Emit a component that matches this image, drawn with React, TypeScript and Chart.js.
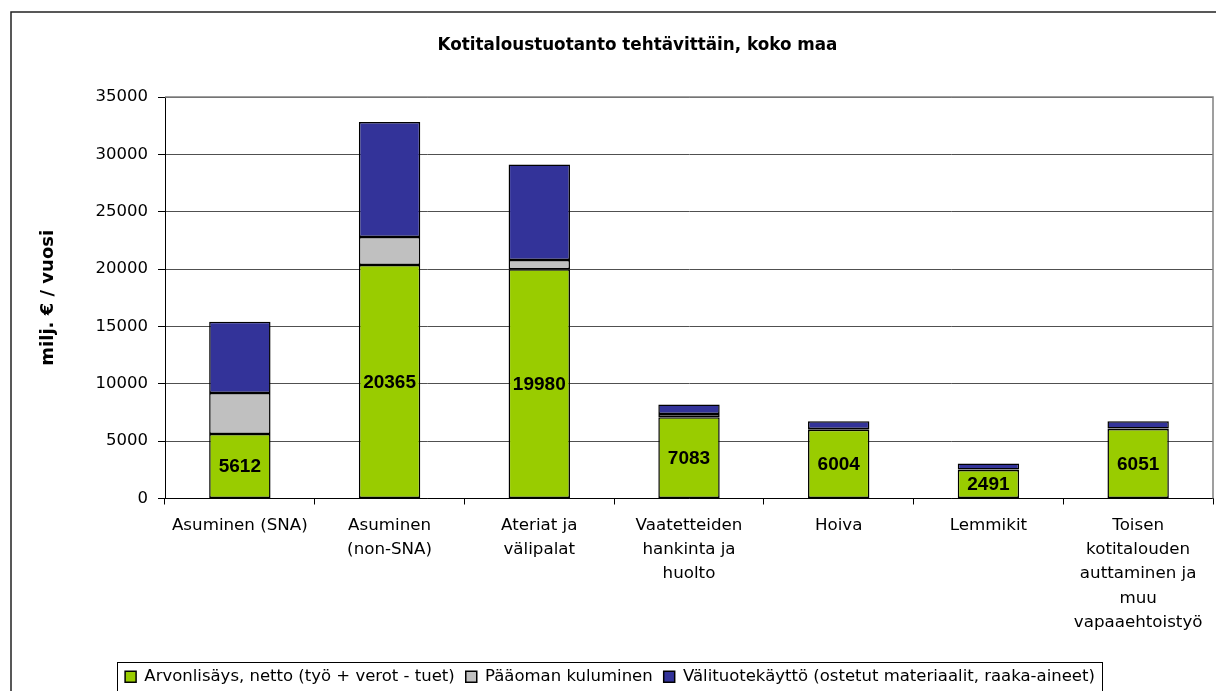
import React, { useEffect, useRef } from 'react';
import { Chart, registerables } from 'chart.js';

Chart.register(...registerables);

const chartTitle = 'Kotitaloustuotanto tehtävittäin, koko maa';
const yAxisTitle = 'milj. € / vuosi';

const categories: (string | string[])[] = [
  'Asuminen (SNA)',
  ['Asuminen', '(non-SNA)'],
  ['Ateriat ja', 'välipalat'],
  ['Vaatetteiden', 'hankinta ja', 'huolto'],
  'Hoiva',
  'Lemmikit',
  ['Toisen', 'kotitalouden', 'auttaminen ja', 'muu', 'vapaaehtoistyö'],
];

const seriesNames = [
  'Arvonlisäys, netto (työ + verot - tuet)',
  'Pääoman kuluminen',
  'Välituotekäyttö (ostetut materiaalit, raaka-aineet)',
];

const arvonlisays = [5612, 20365, 19980, 7083, 6004, 2491, 6051];
const paaomanKuluminen = [3594, 2430, 810, 294, 50, 40, 50];
const valituotekaytto = [6211, 10016, 8328, 810, 680, 515, 630];

const yMin = 0;
const yMax = 35000;
const yStep = 5000;

const colors = ['#99CC00', '#C0C0C0', '#333399'];

const FONT = "'DejaVu Sans', Verdana, sans-serif";

export default function App() {
  const canvasRef = useRef<HTMLCanvasElement | null>(null);

  useEffect(() => {
    const canvas = canvasRef.current;
    if (!canvas) return;

    const decorPlugin = {
      id: 'decor',
      beforeDraw(chart: any) {
        const ctx = chart.ctx;
        ctx.save();
        ctx.fillStyle = '#ffffff';
        ctx.fillRect(0, 0, chart.width, chart.height);
        ctx.strokeStyle = '#222222';
        ctx.lineWidth = 1.5;
        ctx.strokeRect(11, 12, 1400, 1400);
        ctx.fillStyle = '#000';
        ctx.font = `bold 16.8px ${FONT}`;
        ctx.textAlign = 'center';
        ctx.textBaseline = 'middle';
        ctx.fillText(chartTitle, 637.5, 46);
        ctx.restore();
      },
      afterLayout(chart: any) {
        const lg = chart.legend;
        if (lg) {
          lg.left -= 13.5;
          lg.right -= 13.5;
        }
      },
      afterDatasetsDraw(chart: any) {
        const ctx = chart.ctx;
        const meta = chart.getDatasetMeta(0);
        ctx.save();
        ctx.fillStyle = '#000';
        ctx.font = "bold 19px 'Liberation Sans', Arial, sans-serif";
        ctx.textAlign = 'center';
        ctx.textBaseline = 'middle';
        meta.data.forEach((el: any, i: number) => {
          const p = el.getProps(['x', 'y', 'base'], true);
          ctx.fillText(String(arvonlisays[i]), p.x, (p.y + p.base) / 2 + 1);
        });
        ctx.restore();
      },
      afterDraw(chart: any) {
        const ctx = chart.ctx;
        const a = chart.chartArea;
        ctx.save();
        ctx.strokeStyle = '#808080';
        ctx.lineWidth = 1.5;
        ctx.beginPath();
        ctx.moveTo(a.left, a.top);
        ctx.lineTo(a.right, a.top);
        ctx.lineTo(a.right, a.bottom);
        ctx.stroke();
        const lg = chart.legend;
        if (lg && lg.legendHitBoxes && lg.legendHitBoxes.length) {
          const hb = lg.legendHitBoxes;
          const first = hb[0];
          const last = hb[hb.length - 1];
          const l = first.left - 8;
          const r = last.left + last.width + 7;
          ctx.strokeStyle = '#000';
          ctx.lineWidth = 1;
          ctx.strokeRect(Math.round(l) + 0.5, 662.5, Math.round(r - l), 100);
        }
        ctx.restore();
      },
    };

    const mkDataset = (label: string, data: number[], color: string) => ({
      label,
      data,
      backgroundColor: color,
      borderColor: '#000',
      borderWidth: 1.5,
      borderSkipped: false,
    });

    const chart = new Chart(canvas, {
      type: 'bar',
      data: {
        labels: categories as any,
        datasets: [
          mkDataset(seriesNames[0], arvonlisays, colors[0]),
          mkDataset(seriesNames[1], paaomanKuluminen, colors[1]),
          mkDataset(seriesNames[2], valituotekaytto, colors[2]),
        ],
      },
      options: {
        responsive: false,
        animation: false,
        events: [],
        datasets: {
          bar: {
            categoryPercentage: 1,
            barPercentage: 0.41,
          },
        },
        layout: {
          padding: { left: 34, right: 3, top: 97, bottom: 5 },
        },
        plugins: {
          title: { display: false },
          tooltip: { enabled: false },
          legend: {
            display: true,
            position: 'bottom',
            labels: {
              boxWidth: 11,
              boxHeight: 11,
              padding: 11,
              color: '#000',
              font: { family: FONT, size: 16.5 },
            },
          },
        },
        scales: {
          x: {
            stacked: true,
            offset: true,
            afterFit(scale: any) {
              scale.height = 159;
            },
            grid: {
              display: true,
              offset: true,
              drawOnChartArea: false,
              drawTicks: true,
              tickLength: 6,
              color: '#000',
            },
            border: { display: true, color: '#000', width: 1 },
            ticks: {
              autoSkip: false,
              maxRotation: 0,
              minRotation: 0,
              padding: 9,
              color: '#000',
              font: { family: FONT, size: 16.7, lineHeight: 1.45 },
            },
          },
          y: {
            stacked: true,
            min: yMin,
            max: yMax,
            afterFit(scale: any) {
              scale.width = 131;
            },
            ticks: {
              stepSize: yStep,
              padding: 10,
              color: '#000',
              font: { family: FONT, size: 16.5 },
              callback: (v: any) => String(v),
            },
            grid: {
              color: '#505050',
              lineWidth: 1,
              tickLength: 7,
              tickColor: '#000',
            },
            border: { display: true, color: '#000', width: 1 },
            title: {
              display: true,
              text: yAxisTitle,
              color: '#000',
              font: { family: FONT, size: 18, weight: 'bold' },
            },
          },
        },
      },
      plugins: [decorPlugin],
    } as any);

    return () => chart.destroy();
  }, []);

  return (
    <div
      style={{
        position: 'fixed',
        left: 0,
        top: 0,
        width: 1216,
        height: 691,
        overflow: 'hidden',
        background: '#fff',
      }}
    >
      <canvas ref={canvasRef} width={1216} height={700} style={{ display: 'block', width: 1216, height: 700 }} />
    </div>
  );
}
